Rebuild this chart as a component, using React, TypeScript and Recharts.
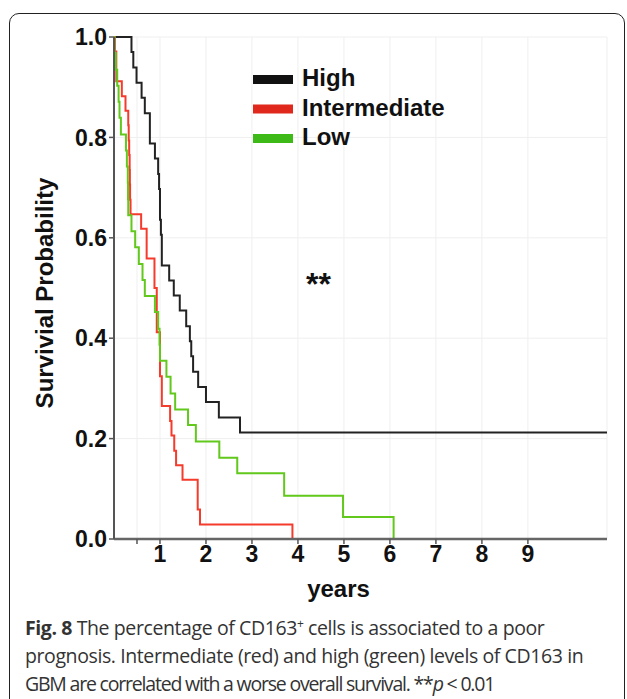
import { LineChart, Line, XAxis, YAxis, CartesianGrid, Legend, Label } from "recharts";

// Kaplan-Meier steps (years, survival probability)
const highTimes = [0, 0.38, 0.42, 0.49, 0.6, 0.67, 0.78, 0.89, 0.96, 0.98, 1.0, 1.02, 1.04, 1.2, 1.3, 1.43, 1.57, 1.65, 1.68, 1.72, 1.83, 2.0, 2.28, 2.74, 10.72];
const highSurv = [1, 0.97, 0.939, 0.909, 0.879, 0.848, 0.788, 0.758, 0.727, 0.697, 0.636, 0.606, 0.545, 0.515, 0.485, 0.455, 0.424, 0.394, 0.364, 0.333, 0.303, 0.273, 0.242, 0.212, 0.212];

const interTimes = [0, 0.02, 0.05, 0.17, 0.25, 0.31, 0.32, 0.33, 0.34, 0.345, 0.35, 0.36, 0.59, 0.71, 0.88, 0.93, 1.0, 1.04, 1.22, 1.25, 1.31, 1.35, 1.49, 1.82, 1.87, 3.88];
const interSurv = [1, 0.971, 0.912, 0.882, 0.853, 0.824, 0.794, 0.765, 0.735, 0.706, 0.676, 0.647, 0.618, 0.559, 0.5, 0.412, 0.324, 0.265, 0.235, 0.206, 0.176, 0.147, 0.118, 0.059, 0.029, 0];

const lowTimes = [0, 0.01, 0.04, 0.07, 0.1, 0.12, 0.15, 0.26, 0.28, 0.3, 0.305, 0.31, 0.38, 0.46, 0.54, 0.62, 0.67, 0.89, 0.96, 0.99, 1.0, 1.14, 1.23, 1.33, 1.61, 1.78, 2.29, 2.68, 3.7, 4.98, 6.08];
const lowSurv = [1, 0.968, 0.935, 0.903, 0.871, 0.839, 0.806, 0.774, 0.742, 0.71, 0.677, 0.645, 0.613, 0.581, 0.548, 0.516, 0.484, 0.452, 0.419, 0.387, 0.355, 0.323, 0.29, 0.258, 0.227, 0.194, 0.162, 0.131, 0.086, 0.044, 0];

const xTicks = [0.5, 1, 2, 3, 4, 5, 6, 7, 8, 9];
const yTicks = [0, 0.2, 0.4, 0.6, 0.8, 1.0];

const series = [
  { name: "High", color: "#222222", legend: "#111111", times: highTimes, surv: highSurv },
  { name: "Intermediate", color: "#f43b2c", legend: "#e0291c", times: interTimes, surv: interSurv },
  { name: "Low", color: "#62c81c", legend: "#3db918", times: lowTimes, surv: lowSurv },
];

const toPoints = (times: number[], surv: number[]) => times.map((t, i) => ({ t, s: surv[i] }));

const bold = "'Liberation Sans', Arial, sans-serif";

function LegendBox() {
  return (
    <svg width={200} height={90}>
      {series.map((s, i) => (
        <g key={s.name}>
          <rect x={0} y={13 + i * 29.5} width={40} height={9} fill={s.legend} />
          <text x={49} y={24 + i * 29.5} fontFamily={bold} fontWeight="bold" fontSize={24} fill="#111">
            {s.name}
          </text>
        </g>
      ))}
    </svg>
  );
}

export default function App() {
  return (
    <div style={{ position: "absolute", left: 0, top: 0, width: 627, height: 699, background: "#fff", overflow: "hidden" }}>
      <div
        style={{
          position: "absolute",
          left: 9,
          top: 13,
          width: 614,
          height: 720,
          border: "1.5px solid #222",
          borderRadius: 10,
        }}
      />
      <div style={{ position: "absolute", left: 0, top: 0 }}>
        <LineChart width={627} height={620} margin={{ top: 37, right: 20, left: 0, bottom: 0 }}>
          <CartesianGrid stroke="#efefef" />
          <XAxis
            type="number"
            dataKey="t"
            domain={[0, 10.72]}
            ticks={xTicks}
            interval={0}
            allowDataOverflow
            height={81}
            tickFormatter={(v: number) => (v === 0.5 ? "" : String(v))}
            tick={{ fontFamily: bold, fontWeight: "bold", fontSize: 23, fill: "#111" }}
            tickLine={{ stroke: "#555", strokeWidth: 1.5 }}
            tickSize={5}
            axisLine={{ stroke: "#666", strokeWidth: 2.5 }}
          >
            <Label
              content={({ viewBox }: any) => (
                <text
                  x={viewBox.x + viewBox.width / 2 - 22}
                  y={597}
                  textAnchor="middle"
                  fontFamily={bold}
                  fontWeight="bold"
                  fontSize={24}
                  fill="#111"
                >
                  years
                </text>
              )}
            />
          </XAxis>
          <YAxis
            type="number"
            domain={[0, 1]}
            ticks={yTicks}
            width={114}
            tickFormatter={(v: number) => v.toFixed(1)}
            tick={{ fontFamily: bold, fontWeight: "bold", fontSize: 23, fill: "#111" }}
            tickLine={{ stroke: "#555", strokeWidth: 1.5 }}
            tickSize={5}
            axisLine={{ stroke: "#555", strokeWidth: 2 }}
          >
            <Label
              content={() => (
                <text
                  x={53}
                  y={293}
                  transform="rotate(-90 53 293)"
                  textAnchor="middle"
                  fontFamily={bold}
                  fontWeight="bold"
                  fontSize={24}
                  fill="#111"
                >
                  Survivial Probability
                </text>
              )}
            />
          </YAxis>
          <Legend
            layout="horizontal"
            verticalAlign="middle"
            align="center"
            wrapperStyle={{ position: "absolute", left: 253, top: 62, width: 200 }}
            content={() => <LegendBox />}
          />
          {series.map((s) => (
            <Line
              key={s.name}
              data={toPoints(s.times, s.surv)}
              dataKey="s"
              name={s.name}
              type="stepAfter"
              stroke={s.color}
              strokeWidth={2}
              dot={false}
              activeDot={false}
              isAnimationActive={false}
            />
          ))}
        </LineChart>
      </div>
      <div
        style={{
          position: "absolute",
          left: 306,
          top: 266,
          fontFamily: bold,
          fontWeight: "bold",
          fontSize: 32,
          color: "#111",
        }}
      >
        **
      </div>
      <div
        style={{
          position: "absolute",
          left: 25,
          top: 614,
          fontFamily: "'Open Sans', sans-serif",
          fontSize: 19.5,
          lineHeight: "28px",
          color: "#333",
          whiteSpace: "nowrap",
        }}
      >
        <div style={{ letterSpacing: -0.4 }}>
          <b>Fig. 8</b> The percentage of CD163<sup style={{ fontSize: 12, lineHeight: 0 }}>+</sup> cells is associated to a poor
        </div>
        <div style={{ letterSpacing: -0.4 }}>prognosis. Intermediate (red) and high (green) levels of CD163 in</div>
        <div style={{ letterSpacing: -1.2 }}>
          GBM are correlated with a worse overall survival. **<i>p</i> &lt; 0.01
        </div>
      </div>
    </div>
  );
}
